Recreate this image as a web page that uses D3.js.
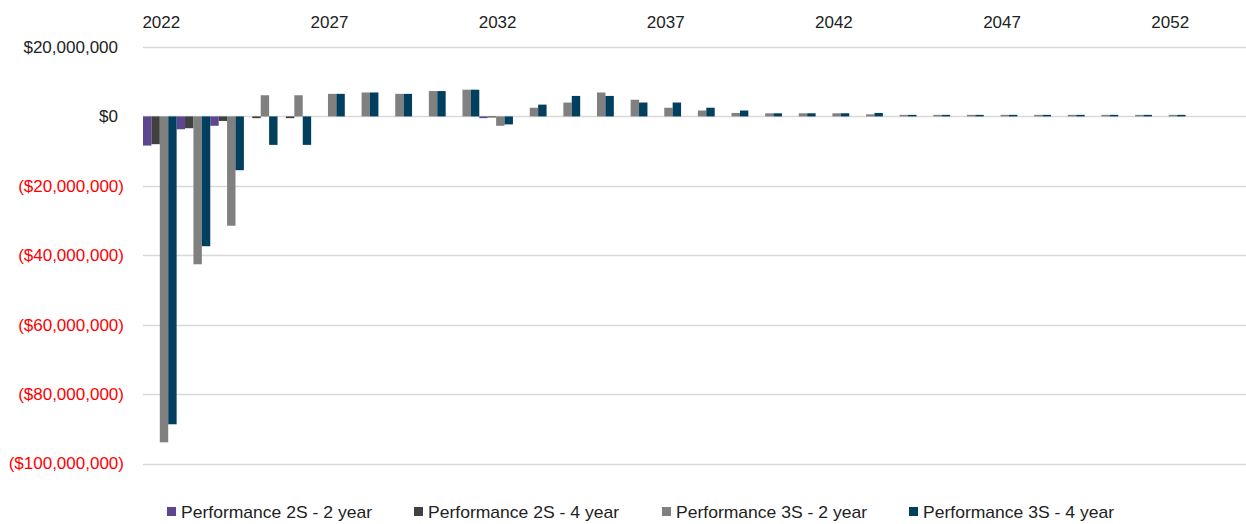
<!DOCTYPE html>
<html>
<head>
<meta charset="utf-8">
<script src="https://cdn.jsdelivr.net/npm/d3@7"></script>
<style>
  body { margin: 0; background: #fff; }
  svg { display: block; font-family: "Liberation Sans", Arial, sans-serif; }
</style>
</head>
<body>
<svg id="chart" width="1246" height="524"></svg>
<script>
// ---- Data (values in millions of dollars) ----
const years = d3.range(2022, 2053);
const seriesNames = ["Performance 2S - 2 year", "Performance 2S - 4 year", "Performance 3S - 2 year", "Performance 3S - 4 year"];
const perf2S2yr = [-8.4, -3.7, -2.7, 0, 0, 0, 0, 0, 0, 0, -0.5, 0, 0, 0, 0, 0, 0, 0, 0, 0, 0, 0, 0, 0, 0, 0, 0, 0, 0, 0, 0];
const perf2S4yr = [-8.0, -3.4, -1.3, -0.5, -0.5, 0, 0, 0, 0, 0, -0.3, 0, 0, 0, 0, 0, 0, 0, 0, 0, 0, 0, 0, 0, 0, 0, 0, 0, 0, 0, 0];
const perf3S2yr = [-93.9, -42.6, -31.5, 6.1, 6.1, 6.5, 6.9, 6.5, 7.3, 7.7, -2.7, 2.5, 4.0, 6.9, 4.8, 2.5, 1.7, 1.0, 0.9, 0.9, 0.9, 0.6, 0.45, 0.45, 0.45, 0.45, 0.45, 0.45, 0.45, 0.45, 0.45];
const perf3S4yr = [-88.7, -37.4, -15.5, -8.2, -8.2, 6.5, 6.9, 6.5, 7.3, 7.7, -2.3, 3.4, 5.9, 5.9, 4.0, 4.0, 2.5, 1.7, 0.9, 0.9, 0.9, 1.0, 0.45, 0.45, 0.45, 0.45, 0.45, 0.45, 0.45, 0.45, 0.45];
const yTicks = [20, 0, -20, -40, -60, -80, -100];
const xTickYears = [2022, 2027, 2032, 2037, 2042, 2047, 2052];
const colors = ["#5e4590", "#404040", "#808080", "#003f5e"];

const seriesData = [perf2S2yr, perf2S4yr, perf3S2yr, perf3S4yr];

// ---- Layout ----
const svg = d3.select("#chart");
const plotLeft = 143, bandW = 33.63;
const plotRight = plotLeft + bandW * years.length;
const gridRight = 1246;

const x = d3.scaleBand().domain(years).range([plotLeft, plotRight]).paddingInner(0).paddingOuter(0);
const xs = d3.scaleBand().domain(d3.range(seriesNames.length)).range([0, x.bandwidth()]).padding(0);
const y = d3.scaleLinear().domain([-100, 20]).range([463.5, 47]);

// gridlines
svg.append("g").selectAll("line").data(yTicks).join("line")
  .attr("x1", plotLeft).attr("x2", gridRight)
  .attr("y1", d => Math.round(y(d)) + 0.5).attr("y2", d => Math.round(y(d)) + 0.5)
  .attr("stroke", "#d9d9d9").attr("stroke-width", 1.5);

// y-axis labels
const fmt = d => {
  const s = "$" + d3.format(",")(Math.abs(d) * 1e6);
  return d < 0 ? "(" + s + ")" : s;
};
const yAxis = d3.axisLeft(y).tickValues(yTicks).tickSize(0).tickPadding(0).tickFormat(fmt);
const yg = svg.append("g").attr("transform", "translate(124,0)").call(yAxis);
yg.select(".domain").remove();
yg.selectAll("text")
  .attr("font-size", 17)
  .attr("font-family", "Liberation Sans, Arial, sans-serif")
  .attr("fill", d => d < 0 ? "#ff0000" : "#222")
  .attr("dx", d => d < 0 ? 0 : -6);

// x-axis labels on top
const xAxis = d3.axisTop(x).tickValues(xTickYears).tickSize(0).tickPadding(0);
const xg = svg.append("g").attr("transform", "translate(0,28)").call(xAxis);
xg.select(".domain").remove();
xg.selectAll("text")
  .attr("font-size", 17)
  .attr("font-family", "Liberation Sans, Arial, sans-serif")
  .attr("fill", "#222")
  .attr("dx", 1.5);

// bars
const groups = svg.append("g").selectAll("g").data(seriesData).join("g")
  .attr("fill", (d, i) => colors[i]);
groups.each(function(vals, si) {
  d3.select(this).selectAll("rect").data(vals.map((v, i) => ({ year: years[i], v })))
    .join("rect")
    .filter(d => d.v !== 0)
    .attr("x", d => x(d.year) + xs(si))
    .attr("width", xs.bandwidth())
    .attr("y", d => Math.min(y(d.v), y(0)))
    .attr("height", d => Math.abs(y(d.v) - y(0)));
});

// legend
const legendX = [167, 414, 662, 909];
const lg = svg.append("g").selectAll("g").data(seriesNames).join("g")
  .attr("transform", (d, i) => `translate(${legendX[i]},0)`);
lg.append("rect").attr("x", 0).attr("y", 507).attr("width", 9).attr("height", 9)
  .attr("fill", (d, i) => colors[i]);
lg.append("text").attr("x", 14).attr("y", 518)
  .attr("font-size", 17)
  .attr("fill", "#222")
  .attr("textLength", 191)
  .attr("lengthAdjust", "spacingAndGlyphs")
  .text(d => d);
</script>
</body>
</html>
